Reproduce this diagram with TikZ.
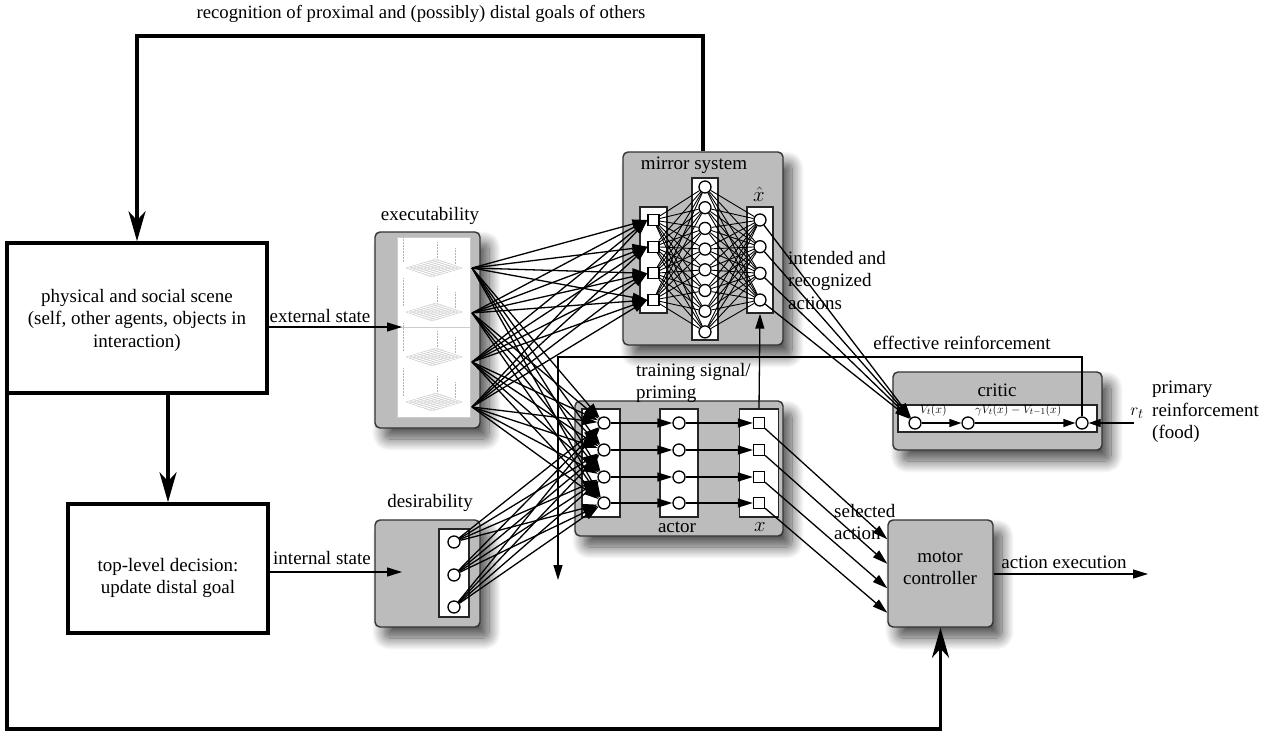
\documentclass[tikz,border=0pt]{standalone}
\usepackage{fontspec}
\setmainfont{Liberation Serif}
\usetikzlibrary{arrows.meta,shadows.blur,calc}
\pgfdeclarelayer{boxes}
\pgfdeclarelayer{wires}
\pgfsetlayers{boxes,wires,main}
\definecolor{panelgray}{RGB}{188,188,188}

\begin{document}
\begin{tikzpicture}[x=1pt,y=-1pt,
  lbl/.style={font=\rmfamily\fontsize{19}{22.5}\selectfont, inner sep=0pt},
  small/.style={font=\rmfamily\fontsize{13}{15}\selectfont, inner sep=0pt},
  panel/.style={draw=black!80, line width=1.4pt, rounded corners=5pt, fill=panelgray,
    blur shadow={shadow xshift=9pt, shadow yshift=-11pt, shadow blur radius=12pt, shadow blur steps=14, shadow opacity=70}},
  framebox/.style={draw, line width=3.5pt, fill=white, inner sep=0pt},
  col/.style={draw=black!85, fill=white, line width=1.3pt, inner sep=0pt},
  unitc/.style={circle, draw, fill=white, line width=1.3pt, minimum size=12pt, inner sep=0pt},
  units/.style={rectangle, draw, fill=white, line width=1.3pt, minimum size=11pt, inner sep=0pt},
  wire/.style={line width=1.3pt},
  fine/.style={line width=0.9pt},
  tip/.style={-{Triangle[length=15pt,width=9pt]}},
  smalltip/.style={-{Triangle[length=12pt,width=8pt]}},
  heavy/.style={line width=3.5pt, -{Stealth[length=30pt,width=17pt,inset=9pt]}},
  mesh/.style={draw=gray!45, line width=0.35pt}
]
\useasboundingbox (0,0) rectangle (1268,733);

% ---------- boxes ----------
\begin{pgfonlayer}{boxes}
  \node[panel, minimum width=160pt, minimum height=193pt] (mirror) at (703,248.5) {};
  \node[panel, minimum width=105pt, minimum height=196pt] (exe) at (427.5,330) {};
  \node[panel, minimum width=105pt, minimum height=107pt] (des) at (427.5,573.5) {};
  \node[panel, minimum width=208pt, minimum height=135pt] (actor) at (679,468.5) {};
  \node[panel, minimum width=209pt, minimum height=78pt] (critic) at (997.5,411) {};
  \node[panel, minimum width=105pt, minimum height=107pt] (motor) at (940.5,573.5) {};
  \node[framebox, minimum width=260pt, minimum height=150pt] (scene) at (137,318) {};
  \node[framebox, minimum width=200pt, minimum height=129pt] (toplevel) at (168,568.5) {};

  % executability panel with four small surface plots
  \node[draw=gray!40, fill=white, line width=0.5pt, minimum width=73pt, minimum height=180pt, inner sep=0pt] (exPanel) at (433.5,327) {};
  \draw[gray!40, line width=0.6pt] (exPanel.west) -- (exPanel.east);
  \foreach \yc in {268,312,357,402} {
    \foreach \k in {0,...,8} {
      \draw[mesh] ($(406,\yc)+({\k*30/8},{-\k*9/8})$) -- ++(26,9);
      \draw[mesh] ($(406,\yc)+({\k*26/8},{\k*9/8})$) -- ++(30,-9);
    }
    \draw[gray!60, densely dotted, line width=0.5pt] (403,{\yc-34}) -- (403,{\yc-6});
    \draw[gray!60, densely dotted, line width=0.5pt] (437,{\yc-26}) -- (437,{\yc-10});
    \draw[gray!60, densely dotted, line width=0.5pt] (455,{\yc-20}) -- (455,{\yc-4});
  }

  % unit columns
  \node[col, minimum width=27pt, minimum height=106pt] (mcolIn) at (653.5,260) {};
  \node[col, minimum width=26pt, minimum height=162pt] (mcolHid) at (705,259) {};
  \node[col, minimum width=26pt, minimum height=106pt] (mcolOut) at (760,260) {};
  \node[col, minimum width=38pt, minimum height=108pt] (acol1) at (601,463) {};
  \node[col, minimum width=38pt, minimum height=108pt] (acol2) at (679,463) {};
  \node[col, minimum width=39pt, minimum height=108pt] (acol3) at (759,463) {};
  \node[col, minimum width=30pt, minimum height=88pt] (dcol) at (454,573) {};
  \node[col, minimum width=199pt, minimum height=27pt] (cstrip) at (997.5,418.5) {};
\end{pgfonlayer}

% ---------- units ----------
\foreach \i/\y in {1/220,2/246.7,3/273.3,4/300} {
  \node[units] (mi\i) at (653.5,\y) {};
  \node[unitc] (mo\i) at (760,\y) {};
}
\foreach \i in {1,...,8}
  \node[unitc] (mh\i) at (705,{187+20.7*(\i-1)}) {};
\foreach \i/\y in {1/423,2/450,3/477,4/503} {
  \node[unitc] (ai\i) at (604,\y) {};
  \node[unitc] (ah\i) at (679,\y) {};
  \node[units] (ao\i) at (759,\y) {};
}
\foreach \i/\y in {1/542,2/575,3/607}
  \node[unitc] (de\i) at (454,\y) {};
\node[unitc] (c1) at (915,423) {};
\node[unitc] (c2) at (968,423) {};
\node[unitc] (c3) at (1082,423) {};
\foreach \i/\y in {1/268,2/313,3/362,4/407}
  \coordinate (ex\i) at (472,\y);

\coordinate (extTip) at (402,327);
\coordinate (intTip) at (402,572);
\coordinate (erTop) at (0,357);
\coordinate (er) at (558,580);
\coordinate (rt) at (1134,423);
\coordinate (exec) at (1148,574);
\coordinate (loopTop) at (0,36);
\coordinate (loopBot) at (0,729);

% ---------- connections ----------
\begin{pgfonlayer}{wires}
  \foreach \i in {1,...,4} \foreach \j in {1,...,4} {
    \draw[wire,tip] (ex\i) -- (mi\j.west);
    \draw[wire,tip] (ex\i) -- (ai\j);
  }
  \foreach \i in {1,2,3} \foreach \j in {1,...,4}
    \draw[wire,tip] (de\i) -- (ai\j);
  \foreach \i in {1,...,4} \foreach \j in {1,...,8} {
    \draw[fine] (mi\i) -- (mh\j);
    \draw[fine] (mh\j) -- (mo\i);
  }
  \foreach \i in {1,...,4} {
    \draw[wire,tip] (ai\i) -- (ah\i);
    \draw[wire,tip] (ah\i) -- (ao\i);
    \draw[wire,tip] (mo\i) -- (c1);
    \draw[wire,tip] (ao\i) -- ($(motor.north west)+(0,{20+24.5*(\i-1)})$);
  }
  \draw[wire,tip] (acol3.north) -- (mcolOut.south);
  \draw[wire,tip] (c3.north) -- (c3 |- erTop) -- (er |- erTop) -- (er);
  \draw[wire,smalltip] (c1) -- (c2);
  \draw[wire,smalltip] (c2) -- (c3);
  \draw[wire,smalltip] (rt) -- (c3);
  \draw[wire,tip] (scene.east |- extTip) -- (extTip);
  \draw[wire,tip] (toplevel.east |- intTip) -- (intTip);
  \draw[wire,tip] (motor.east |- exec) -- (exec);
\end{pgfonlayer}

\draw[heavy] (mirror.north) -- (mirror.north |- loopTop) -| (scene.north);
\draw[heavy] (toplevel.north |- scene.south) -- (toplevel.north);
\draw[heavy] ([xshift=1.75pt]scene.south west) -- ([xshift=1.75pt]scene.south west |- loopBot) -| (motor.south);

% ---------- labels ----------
\node[lbl, font=\rmfamily\fontsize{18.7}{22}\selectfont] (tRecog) at (421,14) {recognition of proximal and (possibly) distal goals of others};
\node[lbl, align=center] (tScene) at (137,320) {physical and social scene\\(self, other agents, objects in\\interaction)};
\node[lbl, align=center] (tTop) at (168,578) {top-level decision:\\update distal goal};
\node[lbl] (tExt) at (320,316) {external state};
\node[lbl] (tInt) at (322,558) {internal state};
\node[lbl] (tExe) at (430,216) {executability};
\node[lbl] (tDes) at (430,503) {desirability};
\node[lbl] (tMirror) at (694,165) {mirror system};
\node[lbl, font=\rmfamily\fontsize{21}{24}\selectfont] (tXhat) at (759,194) {$\hat{x}$};
\node[lbl, align=left, anchor=west] (tIntended) at (788,280) {intended and\\recognized\\actions};
\node[lbl, align=left, anchor=west] (tTrain) at (636,383) {training signal/\\priming};
\node[lbl] (tEff) at (962,343) {effective reinforcement};
\node[lbl] (tCritic) at (997,390) {critic};
\node[small, anchor=west] (tV) at (920,410) {$V_t(x)$};
\node[small, anchor=west] (tDelta) at (975,410) {$\gamma V_t(x)-V_{t-1}(x)$};
\node[lbl] (tRt) at (1137,413) {$r_t$};
\node[lbl, align=left, anchor=west] (tPrim) at (1152,412) {primary\\reinforcement\\(food)};
\node[lbl, align=left, anchor=west] (tSel) at (834,522) {selected\\action};
\node[lbl] (tExec) at (1064,562) {action execution};
\node[lbl] (tActor) at (677,527) {actor};
\node[lbl, font=\rmfamily\fontsize{21}{24}\selectfont] (tX) at (760,527) {$x$};
\node[lbl, align=center] (tMotor) at (940,568) {motor\\controller};
\end{tikzpicture}
\end{document}
